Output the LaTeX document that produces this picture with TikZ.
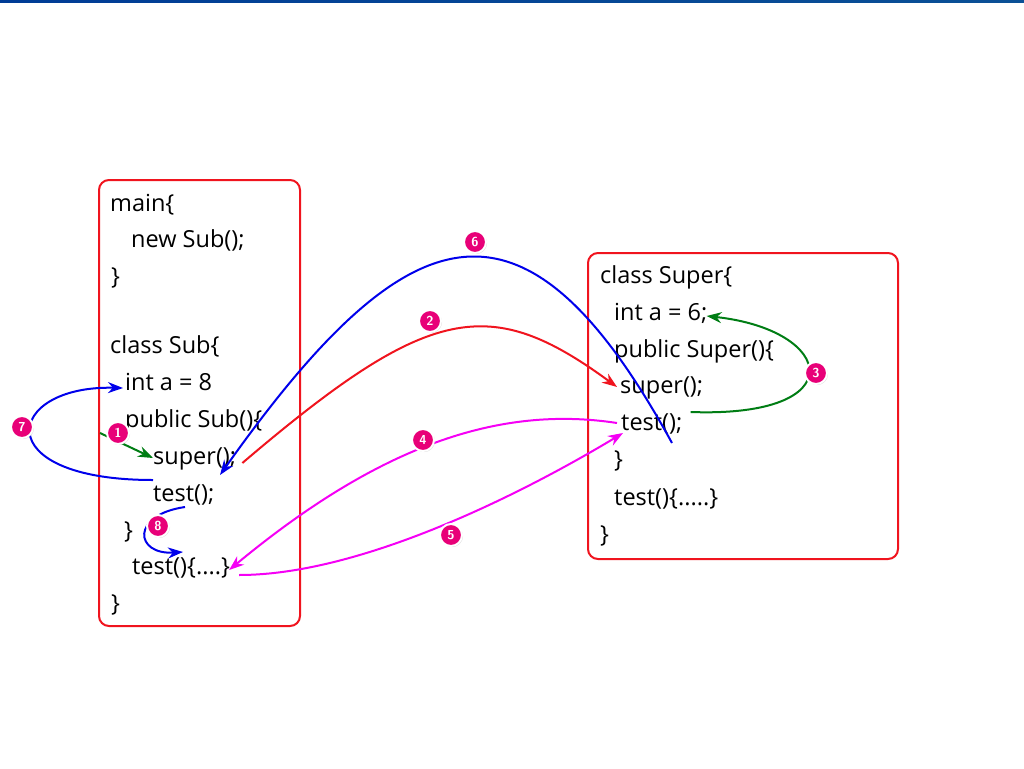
\documentclass[tikz,border=0pt]{standalone}
\usepackage{fontspec}
\usepackage{tikz}
\usetikzlibrary{arrows.meta, calc, shadows}
\newfontfamily\codefont{Open Sans}
\definecolor{codered}{RGB}{240,20,30}
\definecolor{codeblue}{RGB}{0,0,235}
\definecolor{codegreen}{RGB}{0,125,20}
\definecolor{codemagenta}{RGB}{245,0,245}
\definecolor{badgepink}{RGB}{232,0,120}
\definecolor{barleft}{RGB}{0,60,150}
\definecolor{barright}{RGB}{10,80,150}

\begin{document}
\begin{tikzpicture}[
  x=1pt, y=-1pt,
  codetext/.style={anchor=base west, inner sep=0pt, font=\codefont\fontsize{23.5}{28}\selectfont},
  codebox/.style={rectangle, rounded corners=10pt, draw=codered, line width=2pt},
  arr/.style={-{Stealth[length=15pt, width=11pt]}, line width=2pt},
  badge/.style={circle, fill=badgepink, draw=white, line width=2pt, text=white,
                minimum size=22pt, inner sep=0pt, font=\sffamily\bfseries\fontsize{13}{13}\selectfont,
                drop shadow={opacity=0.35, shadow xshift=1pt, shadow yshift=-1pt}},
]
\useasboundingbox (0,0) rectangle (1024,768);
\shade[left color=barleft, right color=barright] (0,0) rectangle (1024,3);

% boxes
\node[codebox, minimum width=201pt, minimum height=446pt] (subbox) at (199.5,403) {};
\node[codebox, minimum width=310pt, minimum height=306pt] (superbox) at (743,406) {};

% left code
\node[codetext] (lmain) at (110,211) {main\{};
\node[codetext] (lnew) at (131,247) {new Sub();};
\node[codetext] (lclose1) at (111,284) {\}};
\node[codetext] (lclass) at (110,353) {class Sub\{};
\node[codetext] (lint) at (125,390) {int a = 8};
\node[codetext] (lpub) at (125,427) {public Sub()\{};
\node[codetext] (lsuper) at (153,464) {super();};
\node[codetext] (ltest) at (153,501) {test();};
\node[codetext] (lclose2) at (124,538) {\}};
\node[codetext] (ltestdef) at (132,574) {test()\{....\}};
\node[codetext] (lclose3) at (111,611) {\}};

% right code
\node[codetext] (rclass) at (600,283) {class Super\{};
\node[codetext] (rint) at (614,320) {int a = 6;};
\node[codetext] (rpub) at (614,357) {public Super()\{};
\node[codetext] (rsuper) at (620,393) {super();};
\node[codetext] (rtest) at (621,430) {test();};
\node[codetext] (rclose1) at (614,467) {\}};
\node[codetext] (rtestdef) at (614,505) {test()\{.....\}};
\node[codetext] (rclose2) at (600,542) {\}};

\coordinate (onestart) at (100,433);

% connectors
\draw[arr, codegreen] (onestart) -- ($(lsuper.base west)+(0,-6)$);
\draw[arr, codered] ($(lsuper.base east)+(6,-1)$) .. controls (430,303) and (490,294) .. ($(rsuper.base west)+(-3,-6)$);
\draw[arr, codegreen] ($(rtest.base east)+(8,-18)$) .. controls (855,418) and (835,330) .. ($(rint.base east)+(-1,-4)$);
\draw[arr, codemagenta] ($(rtest.base west)+(-4,-7)$) .. controls (500,405) and (380,445) .. ($(ltestdef.base east)+(-1,-4)$);
\draw[arr, codemagenta] ($(ltestdef.base east)+(9,1)$) .. controls (360,575) and (520,495) .. ($(rtest.base west)+(2,3)$);
\draw[arr, codeblue] ($(rtest.base west)+(51,13)$) .. controls (525,175) and (410,207) .. ($(ltest.base west)+(67,-26)$);
\draw[arr, codeblue] ($(ltest.base west)+(0,-21)$) .. controls (-15,480) and (5,385) .. ($(lint.base west)+(-2,-2)$);
\draw[arr, codeblue] ($(ltest.base west)+(32,6)$) .. controls (130,515) and (135,555) .. ($(ltestdef.base west)+(51,-22)$);

% step numbers
\node[badge] (n1) at (118,433) {1};
\node[badge] (n2) at (430,321) {2};
\node[badge] (n3) at (816,373) {3};
\node[badge] (n4) at (423,440) {4};
\node[badge] (n5) at (451,535) {5};
\node[badge] (n6) at (475,242) {6};
\node[badge] (n7) at (22,427) {7};
\node[badge] (n8) at (158,526) {8};
\end{tikzpicture}
\end{document}
